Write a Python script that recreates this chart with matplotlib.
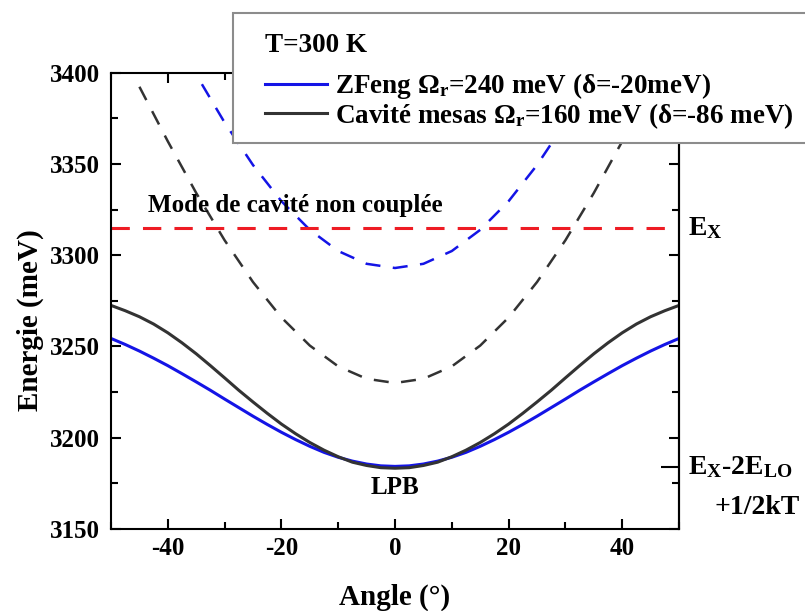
import numpy as np
import matplotlib
matplotlib.use("Agg")
import matplotlib.pyplot as plt
from matplotlib.patches import Rectangle
from matplotlib.ticker import MultipleLocator

plt.rcParams['font.family'] = ['Liberation Serif', 'DejaVu Serif']
plt.rcParams['font.weight'] = 'bold'
plt.rcParams['mathtext.fontset'] = 'custom'
plt.rcParams['mathtext.rm'] = 'Liberation Serif:bold'
plt.rcParams['mathtext.it'] = 'Liberation Serif:bold'
plt.rcParams['mathtext.bf'] = 'Liberation Serif:bold'
plt.rcParams['axes.unicode_minus'] = False

# lower polariton branches (step 2.5 deg)
lpb_angles = np.arange(-50, 50.1, 2.5)
lpb_zfeng = [3254.4, 3251.1, 3247.5, 3243.6, 3239.5, 3235.1, 3230.6, 3226.0, 3221.2, 3216.5,
             3211.8, 3207.3, 3203.0, 3199.0, 3195.3, 3192.0, 3189.3, 3187.2, 3185.6, 3184.6,
             3184.3,
             3184.6, 3185.6, 3187.2, 3189.3, 3192.0, 3195.3, 3199.0, 3203.0, 3207.3, 3211.8,
             3216.5, 3221.2, 3226.0, 3230.6, 3235.1, 3239.5, 3243.6, 3247.5, 3251.1, 3254.4]
lpb_mesas = [3272.5, 3269.6, 3266.3, 3262.3, 3257.5, 3252.0, 3246.0, 3239.5, 3232.8, 3226.0,
             3219.6, 3213.4, 3207.5, 3202.2, 3197.4, 3193.2, 3189.6, 3186.6, 3184.8, 3183.6,
             3183.3,
             3183.6, 3184.8, 3186.6, 3189.6, 3193.2, 3197.4, 3202.2, 3207.5, 3213.4, 3219.6,
             3226.0, 3232.8, 3239.5, 3246.0, 3252.0, 3257.5, 3262.3, 3266.3, 3269.6, 3272.5]

# uncoupled cavity modes
cav_zfeng_angles = [-34, -30, -25, -20, -15, -10, -5, 0, 5, 10, 15, 20, 25, 30, 34]
cav_zfeng = [3393.7, 3372.7, 3349.4, 3329.6, 3313.9, 3302.3, 3295.3, 3293.0,
             3295.3, 3302.3, 3313.9, 3329.6, 3349.4, 3372.7, 3393.7]
cav_mesas_angles = [-45, -40, -35, -30, -25, -20, -15, -10, -5, 0, 5, 10, 15, 20, 25, 30, 35, 40, 45]
cav_mesas = [3392.3, 3362.4, 3334.1, 3308.2, 3285.3, 3265.9, 3250.5, 3239.1, 3232.3, 3230.0,
             3232.3, 3239.1, 3250.5, 3265.9, 3285.3, 3308.2, 3334.1, 3362.4, 3392.3]

ex_energy = 3315
lo_energy = 3184

labels = [r'ZFeng $\Omega_\mathrm{r}$=240 meV (δ=-20meV)',
          r'Cavité mesas $\Omega_\mathrm{r}$=160 meV (δ=-86 meV)']

blue = '#1414e6'
dark = '#333333'
red = '#ee1c24'

fig = plt.figure(figsize=(8.05, 6.11), dpi=100)
ax = fig.add_axes([0.1379, 0.1342, 0.7056, 0.7468])

ax.plot(cav_mesas_angles, cav_mesas, color=dark, lw=1.8, ls=(0, (6, 5)))
ax.plot(cav_zfeng_angles, cav_zfeng, color=blue, lw=1.8, ls=(0, (6, 5)))
ax.axhline(ex_energy, color=red, lw=2.2, ls=(0, (6, 4.3)))
l1, = ax.plot(lpb_angles, lpb_zfeng, color=blue, lw=2.2)
l2, = ax.plot(lpb_angles, lpb_mesas, color=dark, lw=2.2)

ax.set_xlim(-50, 50)
ax.set_ylim(3150, 3400)
ax.xaxis.set_major_locator(MultipleLocator(20))
ax.xaxis.set_minor_locator(MultipleLocator(10))
ax.yaxis.set_major_locator(MultipleLocator(50))
ax.yaxis.set_minor_locator(MultipleLocator(25))
ax.tick_params(which='both', direction='in', top=True, right=True, width=1.5)
ax.tick_params(which='major', length=7)
ax.tick_params(which='minor', length=5)
ax.tick_params(axis='x', labelsize=18, pad=6)
ax.tick_params(axis='y', labelsize=18, pad=8)
for s in ax.spines.values():
    s.set_linewidth(1.5)

sec = ax.secondary_yaxis('right')
sec.set_yticks([lo_energy])
sec.set_yticklabels([])
sec.tick_params(direction='in', length=13, width=1.5)
sec.spines['right'].set_linewidth(1.5)

ax.set_xlabel('Angle (°)', fontsize=21, fontweight='bold')
ax.set_ylabel('Energie (meV)', fontsize=21, fontweight='bold')
ax.xaxis.set_label_coords(0.5, -0.12)
ax.yaxis.set_label_coords(-0.118, 0.457)

ax.text(-43.5, 3327, 'Mode de cavité non couplée', fontsize=18, va='center')
ax.text(0, 3172.5, 'LPB', fontsize=18, ha='center', va='center')
ax.text(51.5, 3315, r'E$_\mathrm{X}$', fontsize=20, va='center', clip_on=False)
ax.text(51.5, lo_energy, r'E$_\mathrm{X}$-2E$_\mathrm{LO}$', fontsize=20, va='center', clip_on=False)
ax.text(56.3, 3162, '+1/2kT', fontsize=20, va='center', clip_on=False)

rect = Rectangle((233 / 805, 1 - 143 / 611), 0.8, 130 / 611, transform=fig.transFigure,
                 facecolor='white', edgecolor='#8c8c8c', lw=1.5, zorder=2)
fig.add_artist(rect)
fig.text(265 / 805, 1 - 46 / 611, 'T=300 K', fontsize=19.5, va='center', zorder=6)

fig.legend([l1, l2], labels, loc='upper left',
           bbox_to_anchor=(265 / 805, 1 - 71 / 611), frameon=False,
           prop=dict(family='Liberation Serif', weight='bold', size=19.5),
           handlelength=2.3, handletextpad=0.3,
           labelspacing=0.0, borderpad=0, borderaxespad=0)

fig.savefig('out.png', dpi=100)
